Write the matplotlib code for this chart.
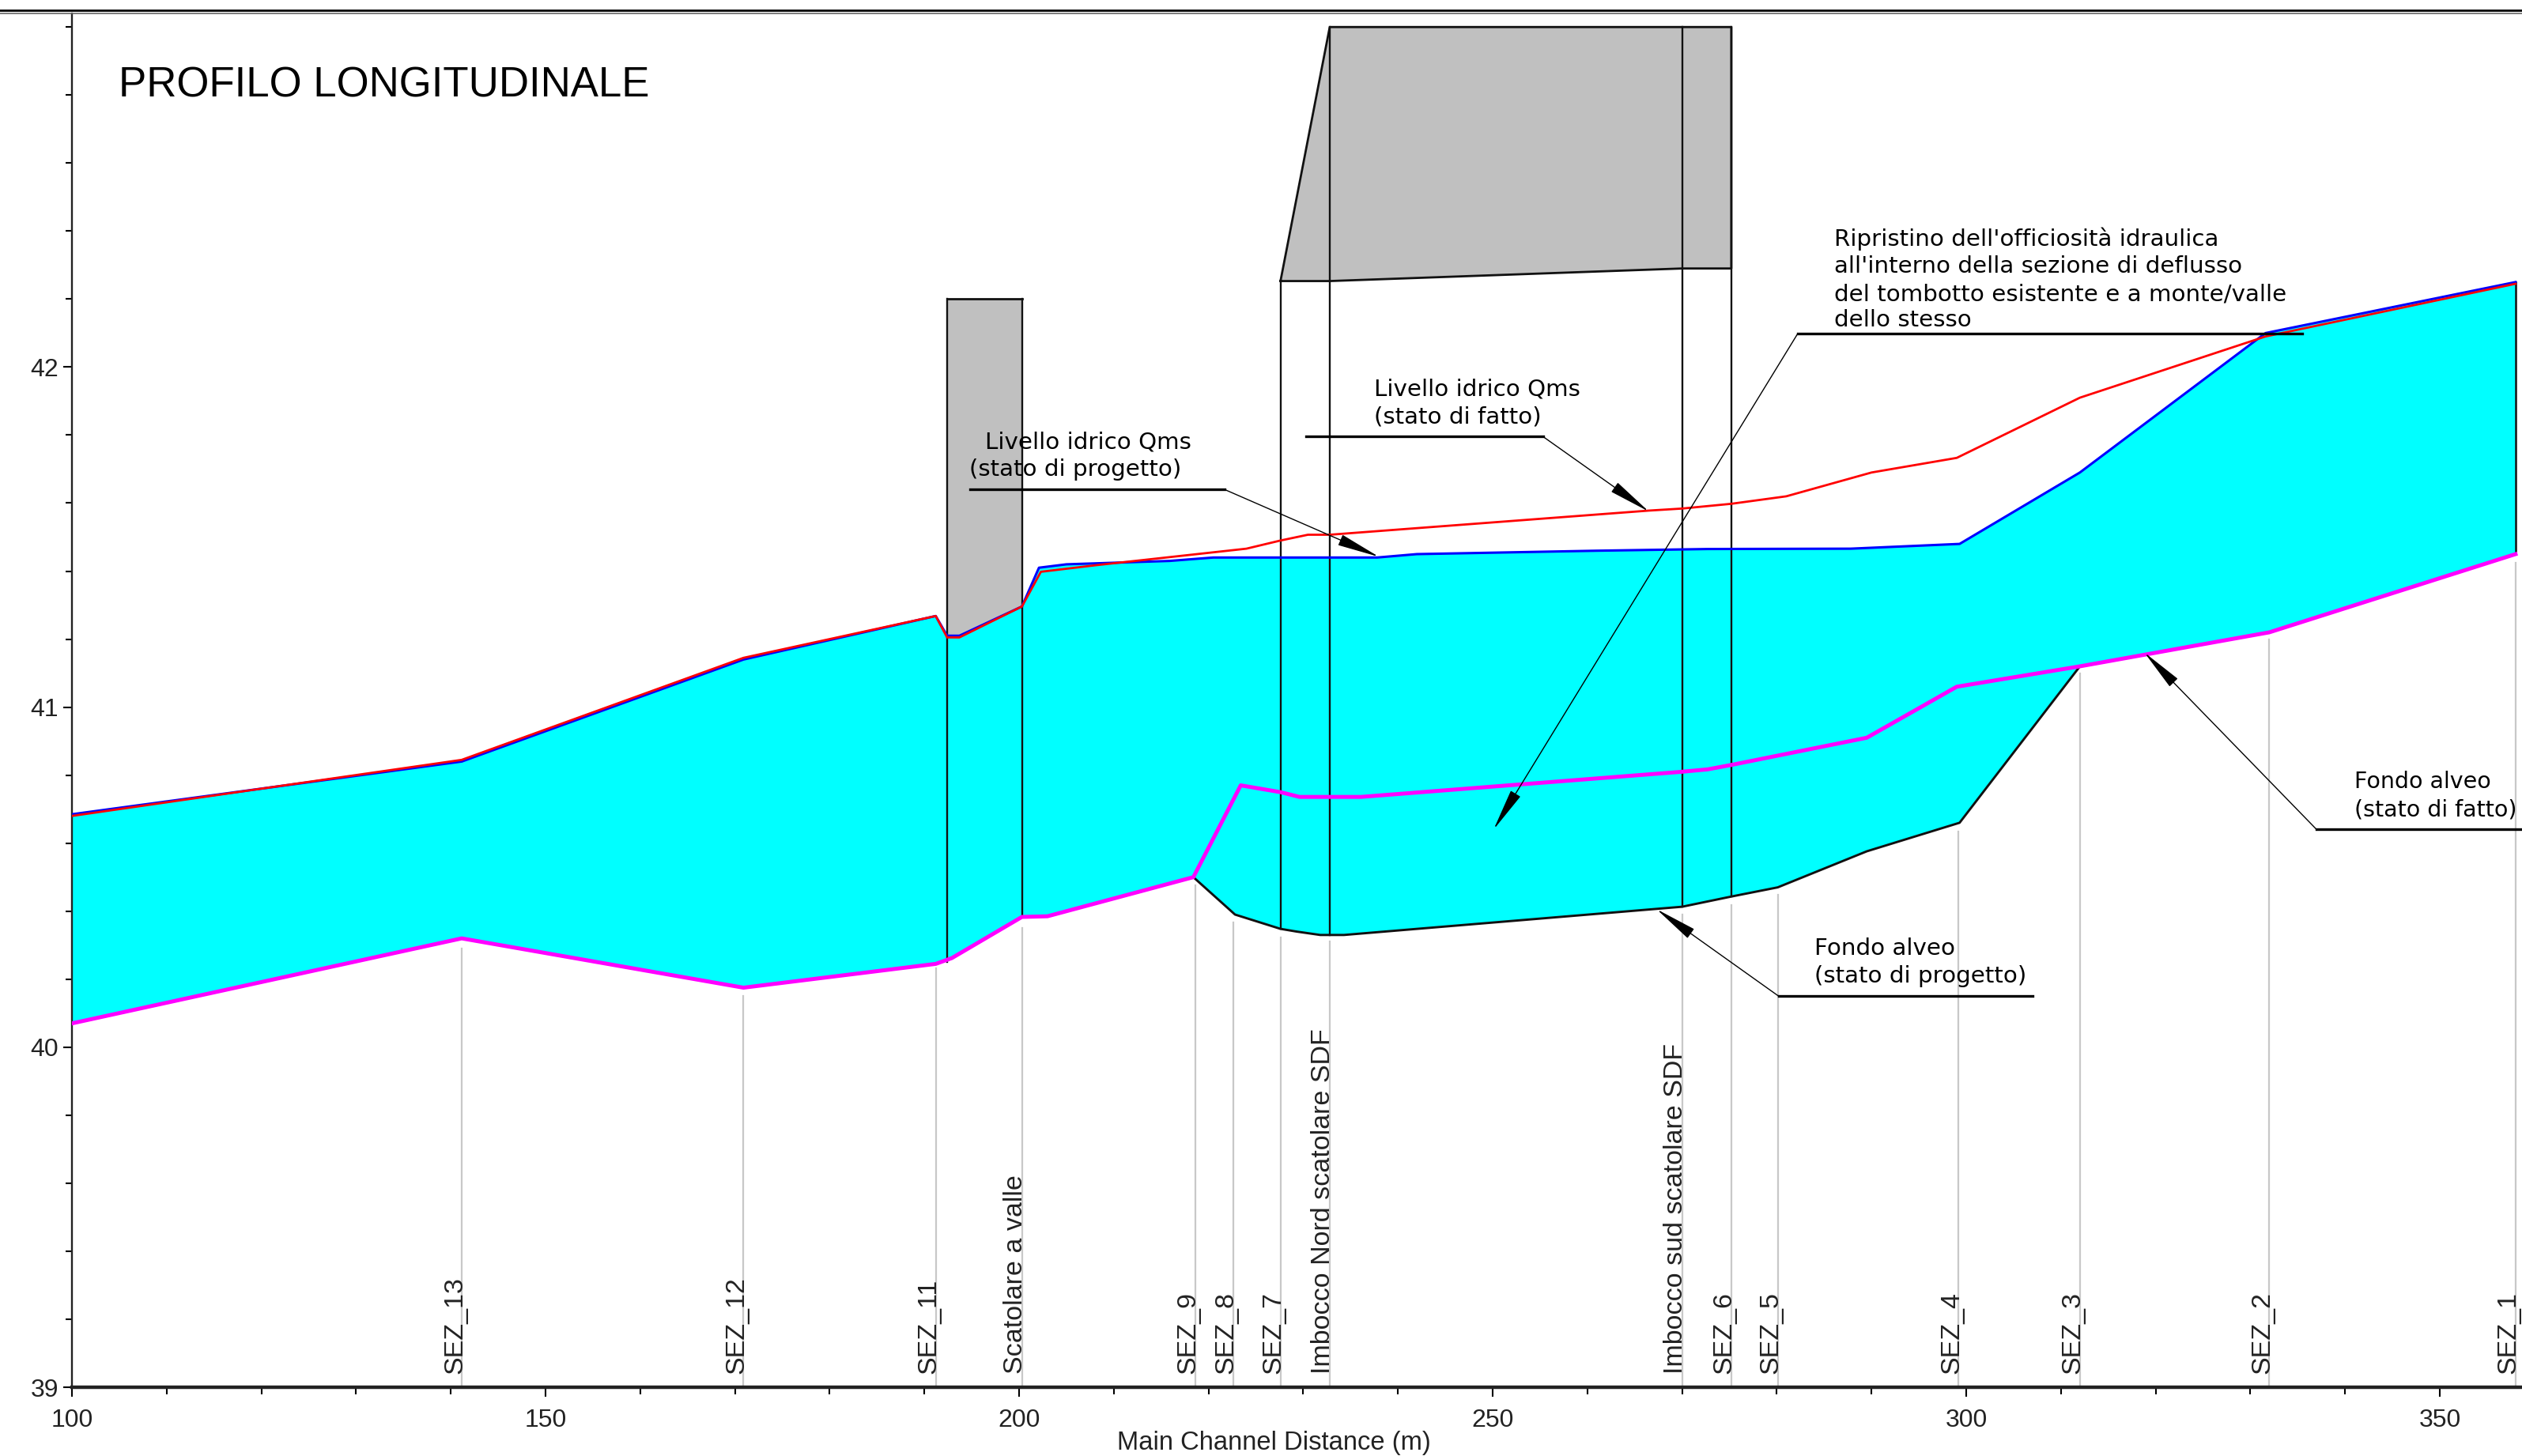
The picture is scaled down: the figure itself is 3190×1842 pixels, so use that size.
#!/usr/bin/env python
"""
Profilo longitudinale: water levels and channel bed, stato di fatto vs progetto.
"""

import matplotlib
matplotlib.use("Agg")
import matplotlib.pyplot as plt
from matplotlib.ticker import FixedLocator, MultipleLocator
import numpy as np

# bed, project state (black line, lower edge of the water fill)
ground_x = [100, 141.15, 170.9, 191.2, 192.9, 200.3, 203, 218.4, 222.8, 227.6, 229.3, 231.8, 234.3,
            270, 275.2, 280.1, 289.5, 299.3, 312, 332, 358]
ground_y = [40.07, 40.32, 40.175, 40.245, 40.262, 40.383, 40.385, 40.50, 40.39, 40.348, 40.34, 40.33, 40.33,
            40.413, 40.443, 40.47, 40.576, 40.66, 41.12, 41.22, 41.45]

# bed, existing state (magenta)
bed_x = [100, 141.15, 170.9, 191.2, 192.9, 200.3, 203, 218.4, 223.4, 227.6, 229.6, 236.1,
         270, 272.7, 275.2, 289.5, 299, 312, 332, 358]
bed_y = [40.07, 40.32, 40.175, 40.245, 40.262, 40.383, 40.385, 40.50, 40.77, 40.75, 40.736, 40.736,
         40.81, 40.817, 40.83, 40.91, 41.06, 41.12, 41.22, 41.45]

# water surface, project state (blue)
wse_x = [100, 141.15, 170.9, 191.2, 192.4, 193.7, 200.3, 202.1, 205, 215.9, 220.5, 237.8, 242,
         261, 272.7, 287.8, 299.3, 312, 331.6, 358]
wse_y = [40.685, 40.84, 41.14, 41.268, 41.21, 41.21, 41.296, 41.41, 41.42, 41.43, 41.44, 41.44, 41.45,
         41.46, 41.465, 41.466, 41.48, 41.69, 42.10, 42.25]

# water surface, existing state (red)
wse_old_x = [100, 141.15, 170.9, 191.2, 192.4, 193.7, 200.3, 202.3, 208, 224, 227.6, 230.5, 232.8,
             266.5, 270, 275.2, 281, 290, 299, 312, 331.6, 358]
wse_old_y = [40.68, 40.845, 41.145, 41.268, 41.205, 41.205, 41.296, 41.398, 41.417, 41.466, 41.49, 41.507, 41.507,
             41.578, 41.584, 41.598, 41.62, 41.69, 41.733, 41.91, 42.09, 42.245]

# cross sections
sez_names = ["SEZ_13", "SEZ_12", "SEZ_11", "Scatolare a valle", "SEZ_9", "SEZ_8", "SEZ_7",
             "Imbocco Nord scatolare SDF", "Imbocco sud scatolare SDF", "SEZ_6", "SEZ_5",
             "SEZ_4", "SEZ_3", "SEZ_2", "SEZ_1"]
sez_x = [141.15, 170.9, 191.2, 200.3, 218.6, 222.6, 227.6, 232.8, 270, 275.2, 280.1, 299.2, 312, 332, 358]
sez_top = [40.29, 40.15, 40.232, 40.35, 40.475, 40.366, 40.322, 40.31, 40.39, 40.418, 40.448, 40.634,
           41.098, 41.20, 41.424]

# culvert decks
deck1_x = [192.4, 200.3, 200.3, 193.7, 192.4]
deck1_y = [42.20, 42.20, 41.296, 41.21, 41.21]
deck2_x = [227.6, 232.8, 275.2, 275.2, 270, 232.8, 227.6]
deck2_y = [42.253, 43.0, 43.0, 42.29, 42.29, 42.253, 42.253]

# culvert walls: x, bottom, top
wall_x = [192.4, 200.3, 227.6, 232.8, 270, 275.2]
wall_bottom = [40.25, 40.383, 40.348, 40.33, 40.413, 40.443]
wall_top = [42.20, 42.20, 42.253, 43.0, 43.0, 43.0]

# notes: text lines, text x, baselines, font size, underline, leader start, arrow tip
note_lines = [
    ["Livello idrico Qms", "(stato di progetto)"],
    ["Livello idrico Qms", "(stato di fatto)"],
    ["Ripristino dell'officiosità idraulica", "all'interno della sezione di deflusso",
     "del tombotto esistente e a monte/valle", "dello stesso"],
    ["Fondo alveo", "(stato di progetto)"],
    ["Fondo alveo", "(stato di fatto)"],
]
note_text_x = [[196.4, 194.7], [237.5, 237.5], [286.1] * 4, [284, 284], [341, 341]]
note_base_y = [[41.761, 41.68], [41.917, 41.835], [42.356, 42.277, 42.195, 42.12], [40.271, 40.19], [40.762, 40.68]]
note_size = [21.2, 21.2, 21.2, 21.2, 20.5]
note_line_x = [(194.8, 221.7), (230.3, 255.3), (335.5, 282.2), (307, 280.2), (358.7, 337)]
note_line_y = [41.64, 41.796, 42.098, 40.15, 40.64]
note_tip_x = [238.0, 266.5, 250.1, 267.3, 318.8]
note_tip_y = [41.442, 41.575, 40.64, 40.406, 41.161]

x_major = [100, 150, 200, 250, 300, 350]
y_major = [39, 40, 41, 42]


def main():
    plt.rcParams["font.family"] = ["Liberation Sans", "DejaVu Sans"]

    fig = plt.figure(figsize=(31.9, 18.42), dpi=100, facecolor="white")
    ax = fig.add_axes([91 / 3190, 87 / 1842, 3099 / 3190, 1738 / 1842])
    ax.set_xlim(100, 358.68)
    ax.set_ylim(39, 43.04)

    # double rule across the top of the window
    fig.add_artist(plt.Line2D([0, 1], [1 - 13 / 1842] * 2, color="black", lw=2.0))
    fig.add_artist(plt.Line2D([0, 1], [1 - 17.5 / 1842] * 2, color="#666666", lw=1.2))

    # water body
    ax.fill(np.r_[ground_x, wse_x[::-1]], np.r_[ground_y, wse_y[::-1]], color="#00FFFF", lw=0, zorder=1)

    # section lines and their labels
    for name, x, top in zip(sez_names, sez_x, sez_top):
        ax.plot([x, x], [39, top], color="#C8C8C8", lw=1.6, zorder=2)
        ax.text(x, 39.04, name, rotation=90, rotation_mode="anchor", ha="left", va="baseline",
                fontsize=24.5, color="#222222", zorder=6)

    # decks
    ax.fill(deck1_x, deck1_y, color="#C0C0C0", lw=0, zorder=2)
    ax.fill(deck2_x, deck2_y, color="#C0C0C0", lw=0, zorder=2)
    ax.plot(deck1_x[:2], deck1_y[:2], color="#111111", lw=2.0, zorder=3)
    ax.plot(deck2_x, deck2_y, color="#111111", lw=2.0, zorder=3)
    for x, lo, hi in zip(wall_x, wall_bottom, wall_top):
        ax.plot([x, x], [lo, hi], color="#111111", lw=1.7, zorder=3)

    ax.plot([ground_x[-1], ground_x[-1]], [ground_y[-1], wse_y[-1]], color="#111111", lw=1.8, zorder=3)

    # profiles
    ax.plot(ground_x, ground_y, color="#111111", lw=2.1, zorder=3)
    ax.plot(wse_x, wse_y, color="#0000FF", lw=2.2, zorder=4)
    ax.plot(wse_old_x, wse_old_y, color="#FF0000", lw=2.0, zorder=4)
    ax.plot(bed_x, bed_y, color="#FF00FF", lw=3.6, zorder=4)

    # notes
    for i, lines in enumerate(note_lines):
        for line, tx, ty in zip(lines, note_text_x[i], note_base_y[i]):
            ax.text(tx, ty, line, fontsize=note_size[i], family="DejaVu Sans", color="black", ha="left",
                    va="baseline", zorder=7)
        ax.plot(note_line_x[i], [note_line_y[i]] * 2, color="black", lw=2.4, zorder=6)
        ax.annotate(
            "",
            xy=(note_tip_x[i], note_tip_y[i]),
            xytext=(note_line_x[i][1], note_line_y[i]),
            arrowprops=dict(arrowstyle="-|>,head_length=3.4,head_width=0.45", mutation_scale=10,
                            color="black", lw=1.0, shrinkA=0, shrinkB=0),
            zorder=6,
        )

    ax.text(104.9, 42.795, "PROFILO LONGITUDINALE", fontsize=38, color="black", ha="left", va="baseline")

    # axes
    ax.spines["top"].set_visible(False)
    ax.spines["right"].set_visible(False)
    ax.spines["left"].set_linewidth(1.7)
    ax.spines["left"].set_color("#222222")
    ax.spines["bottom"].set_linewidth(3.2)
    ax.spines["bottom"].set_color("#222222")

    ax.xaxis.set_major_locator(FixedLocator(x_major))
    ax.xaxis.set_minor_locator(MultipleLocator(10))
    ax.yaxis.set_major_locator(FixedLocator(y_major))
    ax.yaxis.set_minor_locator(MultipleLocator(0.2))
    ax.tick_params(axis="x", which="major", length=8.5, width=1.5, labelsize=23, pad=11, labelcolor="#222222")
    ax.tick_params(axis="x", which="minor", length=6.5, width=1.5)
    ax.tick_params(axis="y", which="major", length=8, width=1.5, labelsize=23, pad=4, labelcolor="#222222")
    ax.tick_params(axis="y", which="minor", length=5.5, width=1.5)

    # kept just inside the bottom edge so the descenders show
    fig.text(1611 / 3190, 8 / 1842, "Main Channel Distance (m)", fontsize=23.6, color="#222222",
             ha="center", va="baseline")

    fig.savefig("out.png", dpi=100, facecolor="white")
    plt.close(fig)


if __name__ == "__main__":
    main()
